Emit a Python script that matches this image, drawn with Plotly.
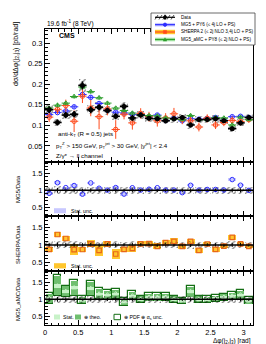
import numpy as np
import plotly.graph_objects as go
from plotly.subplots import make_subplots

# ---------------- data ----------------
n_bins = 25
x_max = np.pi
bin_w = x_max / n_bins
centers = (np.arange(n_bins) + 0.5) * bin_w

data = [0.138, 0.107, 0.125, 0.127, 0.197, 0.138, 0.144, 0.136, 0.122, 0.146,
        0.118, 0.125, 0.117, 0.116, 0.111, 0.116, 0.119, 0.101, 0.114, 0.114,
        0.116, 0.111, 0.092, 0.106, 0.119]
data_stat_rel = [0.06, 0.07, 0.06, 0.06, 0.05, 0.06, 0.05, 0.05, 0.06, 0.05,
                 0.06, 0.05, 0.05, 0.05, 0.05, 0.05, 0.05, 0.06, 0.05, 0.05,
                 0.05, 0.05, 0.06, 0.06, 0.05]
data_syst_rel = [0.08, 0.09, 0.08, 0.08, 0.08, 0.08, 0.08, 0.08, 0.08, 0.08,
                 0.08, 0.08, 0.08, 0.08, 0.08, 0.08, 0.08, 0.09, 0.08, 0.08,
                 0.08, 0.08, 0.09, 0.08, 0.08]

mg5 = [0.126, 0.131, 0.135, 0.145, 0.175, 0.168, 0.153, 0.137, 0.132, 0.130,
       0.127, 0.126, 0.121, 0.125, 0.112, 0.117, 0.111, 0.116, 0.115, 0.117,
       0.119, 0.112, 0.121, 0.122, 0.119]
mg5_stat_rel = [0.03, 0.03, 0.03, 0.03, 0.03, 0.03, 0.03, 0.03, 0.03, 0.03,
                0.03, 0.03, 0.03, 0.03, 0.03, 0.03, 0.03, 0.03, 0.03, 0.03,
                0.03, 0.03, 0.03, 0.03, 0.03]

sherpa = [0.120, 0.139, 0.148, 0.110, 0.171, 0.142, 0.121, 0.140, 0.090, 0.127,
          0.106, 0.129, 0.121, 0.111, 0.118, 0.128, 0.114, 0.111, 0.096, 0.117,
          0.101, 0.107, 0.112, 0.109, 0.114]
sherpa_unc_rel = [0.07, 0.06, 0.07, 0.17, 0.07, 0.10, 0.18, 0.08, 0.18, 0.07,
                  0.11, 0.07, 0.07, 0.09, 0.07, 0.08, 0.07, 0.07, 0.08, 0.06,
                  0.07, 0.06, 0.06, 0.06, 0.05]

amc = [0.142, 0.149, 0.154, 0.170, 0.193, 0.182, 0.167, 0.154, 0.142, 0.136,
       0.130, 0.125, 0.124, 0.123, 0.118, 0.116, 0.114, 0.124, 0.114, 0.114,
       0.119, 0.118, 0.101, 0.120, 0.114]
amc_stat_rel = [0.03, 0.04, 0.03, 0.03, 0.03, 0.03, 0.03, 0.03, 0.03, 0.03,
                0.03, 0.03, 0.03, 0.03, 0.03, 0.03, 0.03, 0.03, 0.03, 0.03,
                0.03, 0.03, 0.03, 0.03, 0.03]
amc_theo_rel = [0.13, 0.20, 0.12, 0.15, 0.10, 0.15, 0.12, 0.10, 0.10, 0.10,
                0.10, 0.09, 0.09, 0.09, 0.09, 0.09, 0.08, 0.12, 0.09, 0.08,
                0.08, 0.08, 0.09, 0.10, 0.09]
amc_pdf_rel = [0.15, 0.22, 0.14, 0.17, 0.12, 0.17, 0.14, 0.12, 0.12, 0.12,
               0.12, 0.11, 0.11, 0.11, 0.11, 0.11, 0.10, 0.14, 0.11, 0.10,
               0.10, 0.10, 0.11, 0.12, 0.11]

# ---------------- derived ----------------
d = np.array(data)
half = np.full(n_bins, bin_w / 2)
r_mg5 = np.array(mg5) / d
r_sh = np.array(sherpa) / d
r_amc = np.array(amc) / d
d_band = np.sqrt(np.array(data_stat_rel) ** 2 + np.array(data_syst_rel) ** 2)

BLUE = "#2b2bff"
RED = "#ff4a1c"
ORANGE_BAND = "#ffc62e"
GREEN = "#2e9e2e"
DKGREEN = "#146e14"
FONT = "Liberation Sans"

fig = make_subplots(rows=4, cols=1, shared_xaxes=True, vertical_spacing=0)

hatch = dict(shape="/", fgcolor="black", bgcolor="rgba(0,0,0,0)", size=4, solidity=0.3)

# ---- top panel ----
fig.add_trace(go.Bar(x=centers, y=2 * d * np.array(data_syst_rel), base=d - d * np.array(data_syst_rel),
                     width=bin_w * 0.9, marker=dict(color="rgba(0,0,0,0)", line=dict(width=0), pattern=hatch),
                     showlegend=False, hoverinfo="skip"), row=1, col=1)
fig.add_trace(go.Scatter(x=centers, y=mg5, mode="markers",
                         marker=dict(symbol="circle-open", size=4.5, color=BLUE, line=dict(width=1)),
                         error_x=dict(type="data", array=half, width=0, thickness=1, color=BLUE),
                         error_y=dict(type="data", array=np.array(mg5) * np.array(mg5_stat_rel), width=0, thickness=1, color=BLUE),
                         showlegend=False), row=1, col=1)
fig.add_trace(go.Scatter(x=centers, y=sherpa, mode="markers",
                         marker=dict(symbol="circle-open", size=4.5, color=RED, line=dict(width=1)),
                         error_x=dict(type="data", array=half, width=0, thickness=1, color=RED),
                         error_y=dict(type="data", array=np.array(sherpa) * np.array(sherpa_unc_rel) * 1.4, width=0, thickness=1, color=RED),
                         showlegend=False), row=1, col=1)
fig.add_trace(go.Scatter(x=centers, y=amc, mode="markers",
                         marker=dict(symbol="triangle-up-open", size=4.5, color=GREEN, line=dict(width=1)),
                         error_x=dict(type="data", array=half, width=0, thickness=1, color=GREEN),
                         error_y=dict(type="data", array=np.array(amc) * np.array(amc_stat_rel), width=0, thickness=1, color=GREEN),
                         showlegend=False), row=1, col=1)
fig.add_trace(go.Scatter(x=centers, y=data, mode="markers",
                         marker=dict(symbol="circle", size=5, color="black"),
                         error_x=dict(type="data", array=half, width=0, thickness=1.6, color="black"),
                         error_y=dict(type="data", array=d * np.array(data_stat_rel), width=0, thickness=1.6, color="black"),
                         showlegend=False), row=1, col=1)

# ---- ratio panels ----
def data_band(row):
    fig.add_trace(go.Bar(x=centers, y=2 * d_band, base=1 - d_band, width=bin_w * 0.9,
                         marker=dict(color="rgba(0,0,0,0)", line=dict(width=0), pattern=hatch),
                         showlegend=False, hoverinfo="skip"), row=row, col=1)
    fig.add_trace(go.Scatter(x=centers, y=np.ones(n_bins), mode="markers", marker=dict(size=0.1, color="black"),
                             error_y=dict(type="data", array=data_stat_rel, width=0, thickness=1, color="black"),
                             showlegend=False, hoverinfo="skip"), row=row, col=1)

# MG5
ms = r_mg5 * np.array(mg5_stat_rel)
fig.add_trace(go.Bar(x=centers, y=2 * ms, base=r_mg5 - ms, width=bin_w * 0.9,
                     marker=dict(color="#c8c8ff", line=dict(width=0)), showlegend=False), row=2, col=1)
data_band(2)
fig.add_trace(go.Scatter(x=centers, y=r_mg5, mode="markers",
                         marker=dict(symbol="circle-open", size=4.5, color=BLUE, line=dict(width=1)),
                         showlegend=False), row=2, col=1)

# SHERPA
su = r_sh * np.array(sherpa_unc_rel)
fig.add_trace(go.Bar(x=centers, y=2 * su, base=r_sh - su, width=bin_w * 0.95,
                     marker=dict(color=ORANGE_BAND, line=dict(width=0)), showlegend=False), row=3, col=1)
data_band(3)
fig.add_trace(go.Scatter(x=centers, y=r_sh, mode="markers",
                         marker=dict(symbol="square-open", size=4.5, color="#e8661a", line=dict(width=1.2)),
                         showlegend=False), row=3, col=1)

# MG5_aMC
pu = r_amc * np.array(amc_pdf_rel)
tu = r_amc * np.array(amc_theo_rel)
stu = r_amc * np.array(amc_stat_rel)
fig.add_trace(go.Bar(x=centers, y=2 * pu, base=r_amc - pu, width=bin_w * 0.95,
                     marker=dict(color="rgba(0,0,0,0)", line=dict(width=1.2, color=DKGREEN)), showlegend=False), row=4, col=1)
fig.add_trace(go.Bar(x=centers, y=2 * tu, base=r_amc - tu, width=bin_w * 0.85,
                     marker=dict(color="#6fbf6f", line=dict(width=0)), showlegend=False), row=4, col=1)
fig.add_trace(go.Bar(x=centers, y=2 * stu, base=r_amc - stu, width=bin_w * 0.85,
                     marker=dict(color="#c8f2c8", line=dict(width=0)), showlegend=False), row=4, col=1)
data_band(4)
fig.add_trace(go.Scatter(x=centers, y=r_amc, mode="markers",
                         marker=dict(symbol="triangle-up-open", size=4.5, color="#c8f2c8", line=dict(width=1)),
                         showlegend=False), row=4, col=1)

for r in (2, 3, 4):
    fig.add_hline(y=1, line=dict(color="black", width=1.5), row=r, col=1, layer="above")

# ---------------- axes ----------------
L, R, T, B = 37, 21, 21, 27
W, H = 266, 344
PW, PH = W - L - R, H - T - B

def X(px):
    return (px - L) / PW

def Y(py):
    return (H - B - py) / PH

domains = [[Y(154), 1.0], [Y(208), Y(154)], [Y(263), Y(208)], [0.0, Y(263)]]
for i in range(4):
    ax = "yaxis" if i == 0 else f"yaxis{i+1}"
    fig.layout[ax].domain = domains[i]

xcommon = dict(range=[0, x_max], ticks="inside", ticklen=5, tickwidth=0.8, dtick=0.5, tick0=0,
               minor=dict(ticks="inside", ticklen=2.5, dtick=0.1, tickwidth=0.8, tickcolor="black"),
               showline=True, linecolor="black", linewidth=1, mirror="allticks", tickcolor="black",
               showgrid=False, zeroline=False,
               tickfont=dict(family=FONT, size=7.5, color="black"))
for i in range(4):
    ax = "xaxis" if i == 0 else f"xaxis{i+1}"
    fig.update_layout({ax: xcommon})
    fig.layout[ax].showticklabels = (i == 3)

ycommon = dict(ticks="inside", ticklen=5, tickwidth=0.8, tickcolor="black",
               showline=True, linecolor="black", linewidth=1, mirror=True,
               showgrid=False, zeroline=False,
               tickfont=dict(family=FONT, size=7.5, color="black"))
fig.update_layout(yaxis=dict(ycommon, range=[0.011, 0.334], dtick=0.05, tick0=0,
                             minor=dict(ticks="inside", ticklen=2.5, dtick=0.01, tickcolor="black", tickwidth=0.8)))
for ax in ("yaxis2", "yaxis3", "yaxis4"):
    fig.update_layout({ax: dict(ycommon, range=[0.25, 1.83], tickvals=[0.5, 1, 1.5],
                                minor=dict(ticks="inside", ticklen=2.5, tickvals=[0.3, 0.4, 0.6, 0.7, 0.8, 0.9, 1.1, 1.2, 1.3, 1.4, 1.6, 1.7, 1.8],
                                           tickcolor="black", tickwidth=0.8))})

# ---------------- texts ----------------
ann = []
def txt(px, py, s, size=6, xanchor="left", angle=0, yanchor="middle", bold=False):
    ann.append(dict(x=X(px), y=Y(py), xref="paper", yref="paper", text=("<b>%s</b>" % s) if bold else s,
                    showarrow=False, xanchor=xanchor, yanchor=yanchor, textangle=angle,
                    font=dict(family=FONT, size=size, color="black")))

txt(37, 15, "19.6 fb<sup>-1</sup> (8 TeV)", size=6.5)
txt(49, 27, "CMS", size=7, bold=True)
txt(48, 126, "anti-k<sub>T</sub> (R = 0.5) jets", size=6.2)
txt(46, 137, "p<sub>T</sub><sup>Z</sup> > 150 GeV, p<sub>T</sub><sup>jet</sup> > 30 GeV, |y<sup>jet</sup>| < 2.4", size=6.2)
txt(46, 147, "Z/γ* → ll channel", size=6.2)
txt(8, 12, "dσ/dΔφ(j<sub>2</sub>,j<sub>3</sub>) [pb/rad]", size=7, xanchor="center", angle=-90, yanchor="top")
txt(10, 181, "MG5/Data", size=6, xanchor="center", angle=-90)
txt(10, 236, "SHERPA/Data", size=6, xanchor="center", angle=-90)
txt(10, 291, "MG5_aMC/Data", size=6, xanchor="center", angle=-90)
txt(245, 333, "Δφ(j<sub>2</sub>,j<sub>3</sub>) [rad]", size=6.5, xanchor="right")

# main legend
shapes = []
def rect(x0, y0, x1, y1, fill, line="rgba(0,0,0,0)", lw=0):
    shapes.append(dict(type="rect", xref="paper", yref="paper", x0=X(x0), x1=X(x1), y0=Y(y1), y1=Y(y0),
                       fillcolor=fill, line=dict(color=line, width=lw), layer="above"))
def seg(x0, y0, x1, y1, color, lw=1):
    shapes.append(dict(type="line", xref="paper", yref="paper", x0=X(x0), x1=X(x1), y0=Y(y0), y1=Y(y1),
                       line=dict(color=color, width=lw), layer="above"))
def circ(cx, cy, r, color, fill):
    shapes.append(dict(type="circle", xref="paper", yref="paper", x0=X(cx - r), x1=X(cx + r), y0=Y(cy + r), y1=Y(cy - r),
                       fillcolor=fill, line=dict(color=color, width=1), layer="above"))

rect(143, 5, 247, 37, "white", "#444", 0.8)
ly = [9.3, 16.7, 24.0, 31.5]
# Data
for k in range(5):
    seg(147 + 4 * k, 11.5, 150 + 4 * k, 7, "black", 0.7)
seg(147, ly[0], 167, ly[0], "black", 1.2)
seg(157, ly[0] - 2.5, 157, ly[0] + 2.5, "black", 1.2)
circ(157, ly[0], 1.5, "black", "black")
# MG5
rect(147, ly[1] - 1.8, 167, ly[1] + 1.8, "#c8c8ff")
seg(147, ly[1], 167, ly[1], BLUE, 1.2)
circ(157, ly[1], 1.6, BLUE, BLUE)
# SHERPA
rect(147, ly[2] - 2.2, 167, ly[2] + 2.2, ORANGE_BAND)
seg(147, ly[2], 167, ly[2], RED, 1.2)
rect(155.4, ly[2] - 1.6, 158.6, ly[2] + 1.6, RED, RED, 0.5)
# aMC
rect(147, ly[3] - 1.8, 167, ly[3] + 1.8, "#a8e6a8")
seg(147, ly[3], 167, ly[3], GREEN, 1.2)
shapes.append(dict(type="path", xref="paper", yref="paper", layer="above",
                   path=f"M {X(155.2)} {Y(ly[3]+1.6)} L {X(158.8)} {Y(ly[3]+1.6)} L {X(157)} {Y(ly[3]-1.8)} Z",
                   fillcolor=GREEN, line=dict(color=GREEN, width=0.5)))
labels = ["Data", "MG5 + PY6 (≤ 4j LO + PS)", "SHERPA 2 (≤ 2j NLO 3,4j LO + PS)", "MG5_aMC + PY8 (≤ 2j NLO + PS)"]
for yy, s in zip(ly, labels):
    txt(171, yy, s, size=4.6)

# ratio legends
rect(46, 200.2, 58, 205.2, "#c8c8ff")
txt(60.5, 202.7, "Stat. unc.", size=5.2)
rect(46, 255.2, 58, 260.4, ORANGE_BAND)
txt(60.5, 257.8, "Stat. unc.", size=5.2)
rect(46, 306.5, 52, 311.5, "#c8f2c8")
txt(53, 309, "Stat.", size=5.2)
rect(67, 306.5, 73, 311.5, "#6fbf6f")
txt(74, 309, "⊕ theo.", size=5.2)
rect(106, 306.3, 112.5, 311.7, "white", DKGREEN, 1)
txt(114, 309, "⊕ PDF ⊕ α<sub>s</sub> unc.", size=5.2)

fig.update_layout(width=W, height=H, margin=dict(l=L, r=R, t=T, b=B, autoexpand=False),
                  paper_bgcolor="white", plot_bgcolor="white", barmode="overlay", bargap=0,
                  showlegend=False, annotations=ann, shapes=list(fig.layout.shapes) + shapes,
                  font=dict(family=FONT))

fig.write_html("out.html")
